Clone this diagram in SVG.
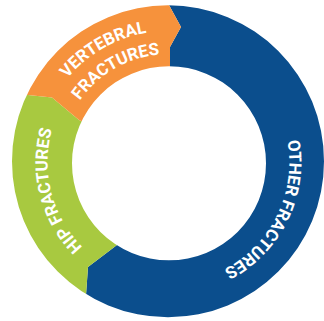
<svg xmlns="http://www.w3.org/2000/svg" xmlns:xlink="http://www.w3.org/1999/xlink" width="324" height="321" viewBox="0 0 324 321">
<style>
.lbl{fill:#ffffff;font-family:Roboto,"Liberation Sans","DejaVu Sans",sans-serif;font-weight:700;font-size:17px}
</style>
<defs>
<clipPath id="ring">
<path clip-rule="evenodd" d="M12,161.3 A156,156 0 1 1 324,161.3 A156,156 0 1 1 12,161.3 Z M72,163.3 A97,97 0 1 0 266,163.3 A97,97 0 1 0 72,163.3 Z"/>
</clipPath>
<path id="arcOther" d="M240.1,64.5 A121,121 0 0 1 134.5,278.1"/>
<path id="arcHip" d="M178.0,282.6 A121,121 0 0 1 118.3,51.9"/>
<path id="arcVert1" d="M45.4,206.8 A131,131 0 0 1 268.9,77.8"/>
<path id="arcVert2" d="M67.0,198.9 A108,108 0 0 1 251.2,92.6"/>
</defs>
<rect width="324" height="321" fill="#ffffff"/>
<g clip-path="url(#ring)">
<g id="other-fractures">
<polygon fill="#0b4e8d" points="168,-10 169,5 181,27 170,47 170,66 168,161 117,245 88,267 86,295 84,330 340,330 340,-10"/>
</g>
<g id="hip-fractures">
<polygon fill="#a8c940" points="84,330 86,295 88,267 117,245 168,161 79,120 52,97.5 28,95 -10,93 -10,330"/>
</g>
<g id="vertebral-fractures">
<polygon fill="#f6923c" points="-10,93 28,95 52,97.5 79,120 168,161 170,66 170,47 181,27 169,5 168,-10 -10,-10"/>
</g>
</g>
<text class="lbl"><textPath xlink:href="#arcOther" startOffset="50%" text-anchor="middle">OTHER FRACTURES</textPath></text>
<text class="lbl"><textPath xlink:href="#arcHip" startOffset="50%" text-anchor="middle">HIP FRACTURES</textPath></text>
<text class="lbl"><textPath xlink:href="#arcVert1" startOffset="50%" text-anchor="middle">VERTEBRAL</textPath><textPath xlink:href="#arcVert2" startOffset="50%" text-anchor="middle">FRACTURES</textPath></text>
</svg>
